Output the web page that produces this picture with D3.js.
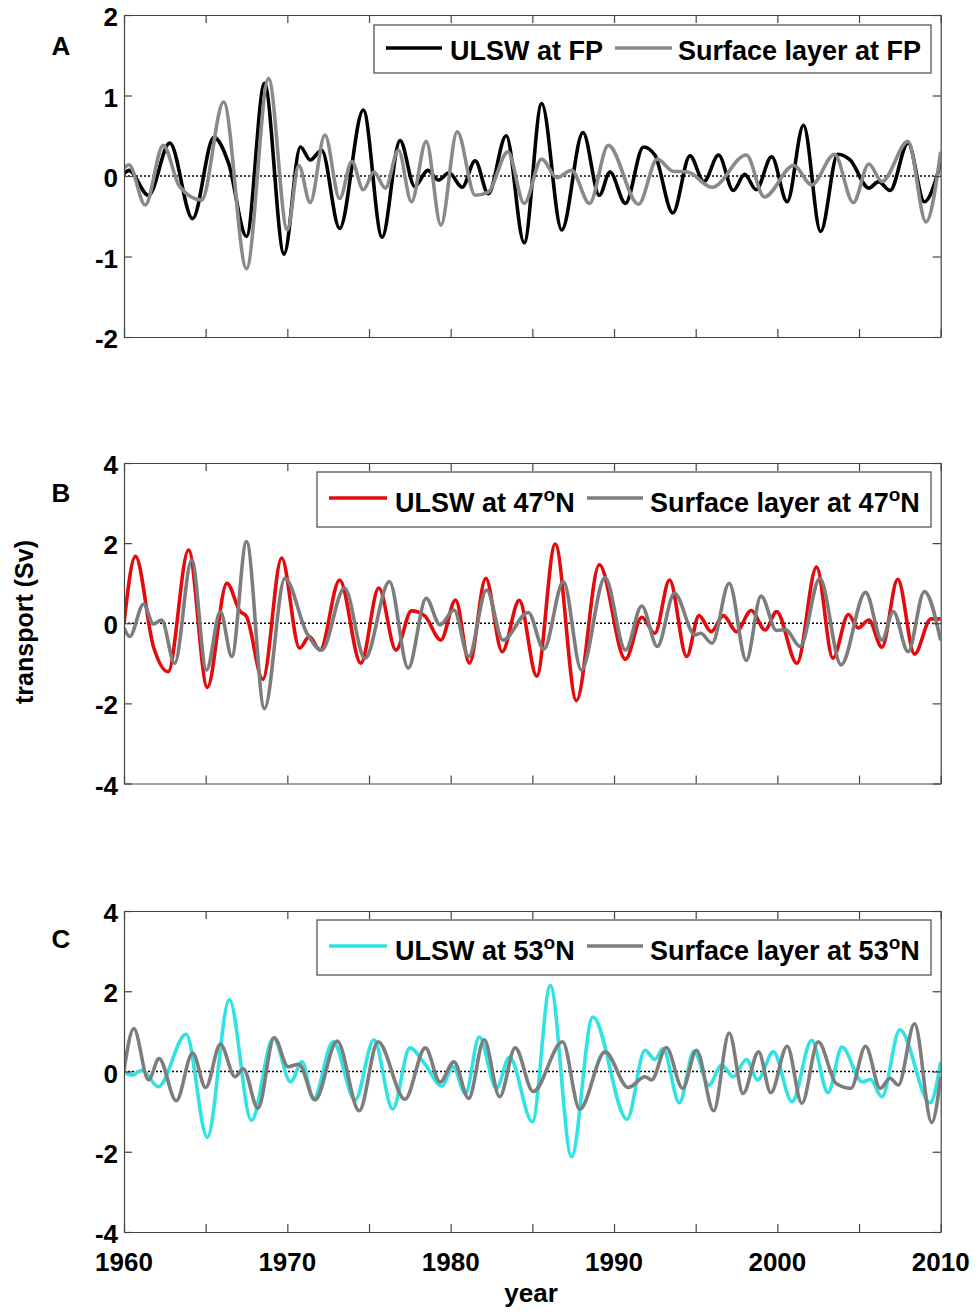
<!DOCTYPE html>
<html><head><meta charset="utf-8">
<script src="https://cdn.jsdelivr.net/npm/d3@7"></script>
<style>
body{margin:0;background:#fff;}
text{font-family:"Liberation Sans",Arial,Helvetica,sans-serif;font-weight:bold;fill:#000;}
</style></head>
<body><svg id="c" width="979" height="1312"></svg>
<script>
// ---------- DATA (year, transport Sv) ----------
const xTicksMinor = [1960,1965,1970,1975,1980,1985,1990,1995,2000,2005,2010];
const xTickLabels = [1960,1970,1980,1990,2000,2010];
const yTicksA = [-2,-1,0,1,2];
const yTicksBC = [-4,-2,0,2,4];
const panelLetters = ["A","B","C"];

const ulswFP = [[1960,0.03],[1960.3,0.07],[1961.5,-0.24],[1962.8,0.41],[1964.2,-0.53],[1965.5,0.48],[1966.4,0.16],[1967.5,-0.75],
 [1968.6,1.15],[1969.8,-0.97],[1970.8,0.36],[1971.4,0.2],[1972.1,0.32],[1973.2,-0.65],[1974.65,0.82],[1975.8,-0.76],
 [1976.9,0.44],[1977.8,-0.13],[1978.6,0.07],[1979.25,-0.05],[1979.9,0.04],[1980.7,-0.14],[1981.5,0.19],[1982.3,-0.22],
 [1983.4,0.5],[1984.5,-0.83],[1985.57,0.9],[1986.8,-0.67],[1988.1,0.54],[1989.1,-0.24],[1989.75,0.05],[1990.7,-0.34],
 [1991.8,0.36],[1992.5,0.26],[1993.6,-0.46],[1994.65,0.25],[1995.5,-0.07],[1996.4,0.26],[1997.3,-0.18],[1998.0,0.02],
 [1998.7,-0.17],[1999.65,0.24],[2000.6,-0.32],[2001.6,0.63],[2002.65,-0.69],[2003.7,0.27],[2004.45,0.2],[2005.6,-0.15],
 [2006.2,-0.07],[2006.9,-0.18],[2008.0,0.41],[2009.0,-0.32],[2010,0.16]];
const surfFP = [[1960,0.1],[1960.3,0.14],[1961.3,-0.36],[1962.4,0.38],[1963.4,-0.13],[1964.75,-0.3],[1966.1,0.92],[1967.5,-1.15],
 [1968.85,1.21],[1970.0,-0.67],[1970.7,0.13],[1971.4,-0.33],[1972.3,0.51],[1973.2,-0.28],[1973.95,0.18],[1974.65,-0.17],
 [1975.3,0.05],[1976.0,-0.15],[1976.8,0.32],[1977.6,-0.32],[1978.5,0.43],[1979.4,-0.61],[1980.4,0.55],[1981.5,-0.24],
 [1982.3,-0.2],[1983.5,0.3],[1984.5,-0.34],[1985.57,0.21],[1986.5,-0.02],[1987.4,0.07],[1988.5,-0.34],[1989.65,0.38],
 [1991.5,-0.35],[1992.65,0.21],[1993.6,0.06],[1994.5,0.05],[1996.0,-0.14],[1998.1,0.26],[1999.2,-0.26],[2001.0,0.13],
 [2002.1,-0.11],[2003.5,0.27],[2004.65,-0.33],[2005.6,0.15],[2006.4,-0.07],[2008.0,0.43],[2009.1,-0.57],[2010,0.3]];

const ulsw47 = [[1960,0],[1960.7,1.67],[1961.8,-0.58],[1962.7,-1.21],[1963.95,1.83],[1965.1,-1.6],[1966.3,1.0],[1967.1,0.3],
 [1967.5,0.17],[1968.5,-1.4],[1969.65,1.63],[1970.75,-0.62],[1971.35,-0.33],[1972.0,-0.67],[1973.2,1.08],[1974.5,-1.0],
 [1975.6,0.88],[1976.65,-0.67],[1977.6,0.31],[1978.4,0.19],[1979.4,-0.42],[1980.3,0.58],[1981.15,-1.0],[1982.15,1.12],
 [1983.15,-0.71],[1984.2,0.57],[1985.27,-1.32],[1986.4,1.98],[1987.7,-1.93],[1989.1,1.46],[1990.7,-0.9],[1991.7,0.15],
 [1992.5,-0.25],[1993.4,1.08],[1994.45,-0.83],[1995.2,0.19],[1995.95,-0.21],[1996.7,0.19],[1997.5,-0.21],[1998.4,0.32],
 [1999.25,-0.17],[1999.95,0.29],[2001.2,-1.0],[2002.4,1.4],[2003.4,-0.87],[2004.35,0.22],[2004.95,-0.12],[2005.6,0.08],
 [2006.4,-0.6],[2007.37,1.1],[2008.4,-0.77],[2009.4,0.11],[2010,0.11]];
const surf47 = [[1960,-0.12],[1960.35,-0.33],[1961.2,0.48],[1961.8,-0.02],[1962.3,0.08],[1963.1,-1.0],[1964.15,1.58],[1965.05,-1.17],
 [1965.9,0.29],[1966.6,-0.83],[1967.5,2.04],[1968.6,-2.13],[1969.85,1.12],[1971.2,-0.25],[1972.1,-0.67],[1973.5,0.88],
 [1974.75,-0.88],[1976.25,1.04],[1977.4,-1.12],[1978.5,0.62],[1979.35,-0.04],[1980.2,0.33],[1981.1,-0.83],[1982.2,0.83],
 [1983.2,-0.42],[1984.75,0.27],[1985.7,-0.65],[1986.9,1.04],[1988.0,-1.17],[1989.45,1.14],[1990.7,-0.67],[1991.7,0.43],
 [1992.65,-0.58],[1993.7,0.75],[1994.95,-0.29],[1995.3,-0.25],[1996.0,-0.5],[1997.05,1.0],[1998.1,-0.93],[1999.0,0.68],
 [1999.95,-0.18],[2000.5,-0.16],[2001.4,-0.58],[2002.6,1.12],[2003.9,-1.04],[2005.4,0.77],[2006.4,-0.42],[2007.1,0.29],
 [2008.0,-0.71],[2009.0,0.79],[2010,-0.43]];

const ulsw53 = [[1960,0],[1960.5,-0.09],[1961.1,0.03],[1962.1,-0.38],[1963.8,0.93],[1965.1,-1.64],[1966.45,1.79],[1967.8,-1.22],
 [1969.15,0.84],[1970.2,-0.26],[1970.9,0.24],[1971.6,-0.69],[1972.8,0.74],[1974.15,-0.71],[1975.3,0.79],[1976.45,-0.94],
 [1977.5,0.59],[1978.4,0.2],[1979.45,-0.36],[1980.15,0.12],[1980.9,-0.55],[1981.75,0.86],[1982.8,-0.42],[1983.6,0.36],
 [1985.0,-1.25],[1986.1,2.14],[1987.4,-2.12],[1988.7,1.36],[1990.8,-1.19],[1991.9,0.53],[1992.5,0.3],[1993.0,0.57],
 [1994.0,-0.78],[1994.9,0.51],[1995.8,-0.34],[1996.6,0.16],[1997.3,-0.13],[1998.1,0.3],[1998.8,-0.21],[1999.75,0.49],
 [2000.9,-0.75],[2002.1,0.78],[2003.1,-0.53],[2003.95,0.61],[2005.2,-0.26],[2005.7,-0.2],[2006.4,-0.63],[2007.5,1.04],
 [2009.35,-0.78],[2010,0.24]];
const surf53 = [[1960,0.03],[1960.6,1.07],[1961.5,-0.21],[1962.15,0.32],[1963.2,-0.73],[1964.2,0.46],[1965.0,-0.4],[1965.9,0.68],
 [1966.8,-0.13],[1967.3,0.07],[1968.2,-0.92],[1969.2,0.84],[1970.05,0.12],[1970.7,0.18],[1971.7,-0.71],[1973.05,0.76],
 [1974.4,-0.98],[1975.55,0.74],[1977.2,-0.69],[1978.45,0.59],[1979.35,-0.26],[1980.2,0.24],[1981.1,-0.67],[1982.05,0.79],
 [1983.0,-0.63],[1983.95,0.59],[1985.05,-0.5],[1986.85,0.74],[1987.9,-0.94],[1989.45,0.49],[1990.87,-0.4],[1991.9,-0.13],
 [1992.3,-0.21],[1993.2,0.6],[1994.2,-0.42],[1995.05,0.53],[1996.1,-0.98],[1997.05,0.96],[1997.9,-0.55],[1998.85,0.49],
 [1999.6,-0.53],[2000.6,0.63],[2001.5,-0.79],[2002.5,0.74],[2003.6,-0.3],[2004.5,-0.42],[2005.4,0.63],[2006.3,-0.42],
 [2006.9,-0.17],[2007.4,-0.34],[2008.4,1.19],[2009.45,-1.27],[2010,-0.13]];

// ---------- LAYOUT ----------
const svg = d3.select("#c");
const left = 124, right = 940.7;
const x = d3.scaleLinear().domain([1960,2010]).range([left,right]);

const panels = [
  {top:15, bottom:337, dom:[-2,2], ticks:yTicksA, s1:ulswFP, s2:surfFP, c1:"#000000", c2:"#8a8a8a",
   letterY:55, leg:{x0:374,x1:931,y0:25,y1:73, l1:[386,442], t1:450, l2:[615,672], t2:678, lineY:48, base:60,
   lab1:["ULSW at FP"], lab2:["Surface layer at FP"]}},
  {top:463, bottom:783.5, dom:[-4,4], ticks:yTicksBC, s1:ulsw47, s2:surf47, c1:"#e30b0b", c2:"#7d7d7d",
   letterY:502, leg:{x0:317,x1:931,y0:472,y1:527, l1:[329,387], t1:395, l2:[587,643], t2:650, lineY:498, base:512,
   lab1:["ULSW at 47","o","N"], lab2:["Surface layer at 47","o","N"]}},
  {top:911, bottom:1232, dom:[-4,4], ticks:yTicksBC, s1:ulsw53, s2:surf53, c1:"#2fe3e3", c2:"#7d7d7d",
   letterY:948, leg:{x0:317,x1:931,y0:920,y1:975, l1:[329,387], t1:395, l2:[587,643], t2:650, lineY:946, base:960,
   lab1:["ULSW at 53","o","N"], lab2:["Surface layer at 53","o","N"]}}
];

const axisColor = "#444";
panels.forEach((p,i)=>{
  const y = d3.scaleLinear().domain(p.dom).range([p.bottom,p.top]);
  const g = svg.append("g");
  const clipId = "clip"+i;
  svg.append("clipPath").attr("id",clipId).append("rect")
     .attr("x",left).attr("y",p.top).attr("width",right-left).attr("height",p.bottom-p.top);

  // zero dotted line
  g.append("line").attr("x1",left).attr("x2",right).attr("y1",y(0)).attr("y2",y(0))
    .attr("stroke","#000").attr("stroke-width",1.4).attr("stroke-dasharray","2,2");

  const line = d3.line().x(d=>x(d[0])).y(d=>y(d[1])).curve(d3.curveMonotoneX);
  const lg = g.append("g").attr("clip-path",`url(#${clipId})`);
  lg.append("path").datum(p.s1).attr("d",line).attr("fill","none").attr("stroke",p.c1).attr("stroke-width",3.6).attr("stroke-linejoin","round");
  lg.append("path").datum(p.s2).attr("d",line).attr("fill","none").attr("stroke",p.c2).attr("stroke-width",3.6).attr("stroke-linejoin","round");

  // axes (ticks inside, MATLAB box)
  const tl = 8;
  const style = sel => { sel.selectAll("path,line").attr("stroke",axisColor).attr("stroke-width",1.2); };
  g.append("g").attr("transform",`translate(0,${p.bottom})`).call(d3.axisTop(x).tickValues(xTicksMinor).tickSize(tl).tickFormat("").tickSizeOuter(0)).call(style);
  g.append("g").attr("transform",`translate(0,${p.top})`).call(d3.axisBottom(x).tickValues(xTicksMinor).tickSize(tl).tickFormat("").tickSizeOuter(0)).call(style);
  g.append("g").attr("transform",`translate(${left},0)`).call(d3.axisRight(y).tickValues(p.ticks).tickSize(tl).tickFormat("").tickSizeOuter(0)).call(style);
  g.append("g").attr("transform",`translate(${right},0)`).call(d3.axisLeft(y).tickValues(p.ticks).tickSize(tl).tickFormat("").tickSizeOuter(0)).call(style);

  // y tick labels
  g.selectAll("text.yt").data(p.ticks).enter().append("text")
    .attr("x",118).attr("y",d=>y(d)+11).attr("text-anchor","end")
    .attr("font-size",26).text(d=>d);

  // panel letter
  g.append("text").attr("x",61).attr("y",p.letterY).attr("text-anchor","middle").attr("font-size",26).text(panelLetters[i]);

  // legend
  const L = p.leg;
  g.append("rect").attr("x",L.x0).attr("y",L.y0).attr("width",L.x1-L.x0).attr("height",L.y1-L.y0)
    .attr("fill","#fff").attr("stroke","#555").attr("stroke-width",1.3);
  g.append("line").attr("x1",L.l1[0]).attr("x2",L.l1[1]).attr("y1",L.lineY).attr("y2",L.lineY).attr("stroke",p.c1).attr("stroke-width",3.6);
  g.append("line").attr("x1",L.l2[0]).attr("x2",L.l2[1]).attr("y1",L.lineY).attr("y2",L.lineY).attr("stroke",p.c2).attr("stroke-width",3.6);
  [[L.t1,L.lab1],[L.t2,L.lab2]].forEach(([tx,lab])=>{
    const t = g.append("text").attr("x",tx).attr("y",L.base).attr("font-size",27);
    t.append("tspan").text(lab[0]);
    if(lab.length>1){
      t.append("tspan").attr("dy",-11).attr("font-size",19).text(lab[1]);
      t.append("tspan").attr("dy",11).text(lab[2]);
    }
  });

  // x tick labels on last panel
  if(i===2){
    g.selectAll("text.xt").data(xTickLabels).enter().append("text")
      .attr("x",d=>x(d)).attr("y",1271).attr("text-anchor","middle").attr("font-size",26).text(d=>d);
  }
});

svg.append("text").attr("x",531).attr("y",1302).attr("text-anchor","middle").attr("font-size",26).text("year");
svg.append("text").attr("transform","translate(33,622) rotate(-90)").attr("text-anchor","middle").attr("font-size",25).text("transport (Sv)");
</script></body></html>
